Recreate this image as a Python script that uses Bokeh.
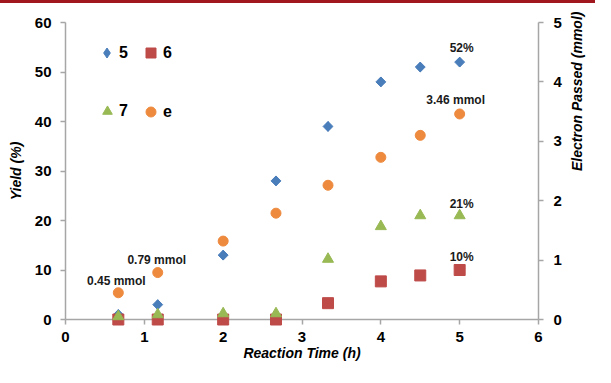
import math
from bokeh.plotting import figure
from bokeh.models import (Range1d, LinearAxis, FixedTicker, ColumnDataSource,
                          LabelSet, Legend, LegendItem, Div)
from bokeh.core.properties import value
from bokeh.layouts import column
from bokeh.embed import file_html
from bokeh.resources import INLINE

# ---- data ----
time_h = [0.67, 1.17, 2.0, 2.67, 3.33, 4.0, 4.5, 5.0]
yield_5 = [1, 3, 13, 28, 39, 48, 51, 52]
yield_6 = [0, 0, 0, 0, 3.3, 7.7, 8.9, 10]
yield_7 = [0.6, 1.0, 1.2, 1.2, 12.2, 18.8, 21, 21]
electron_mmol = [0.45, 0.79, 1.32, 1.79, 2.26, 2.73, 3.10, 3.46]
series_names = ["5", "6", "7", "e"]
x_ticks = [0, 1, 2, 3, 4, 5, 6]
yield_ticks = [0, 10, 20, 30, 40, 50, 60]
electron_ticks = [0, 1, 2, 3, 4, 5]

BLUE = "#4A7EBB"
RED = "#BE4B48"
GREEN = "#98B954"
ORANGE = "#EE8A3E"
FONT = "Liberation Sans"
AXIS_GRAY = "#A6A6A6"

p = figure(width=595, height=364, x_range=Range1d(0, 6), y_range=Range1d(0, 60),
           output_backend="svg", toolbar_location=None,
           min_border_left=65, min_border_right=55, min_border_top=19, min_border_bottom=48,
           background_fill_color="white", border_fill_color="white")
p.outline_line_color = None
p.grid.visible = False
p.extra_y_ranges = {"right": Range1d(0, 5)}

right_axis = LinearAxis(y_range_name="right", ticker=FixedTicker(ticks=electron_ticks),
                        axis_label="Electron Passed (mmol)")
p.add_layout(right_axis, "right")

p.xaxis.ticker = FixedTicker(ticks=x_ticks)
p.yaxis[0].ticker = FixedTicker(ticks=yield_ticks)
p.xaxis.axis_label = "Reaction Time (h)"
p.yaxis[0].axis_label = "Yield (%)"

for ax in p.axis:
    ax.axis_line_color = AXIS_GRAY
    ax.axis_line_width = 1.5
    ax.major_tick_line_color = AXIS_GRAY
    ax.major_tick_line_width = 1.5
    ax.major_tick_out = 5
    ax.major_tick_in = 0
    ax.minor_tick_line_color = None
    ax.major_label_text_font = FONT
    ax.major_label_text_font_size = "15px"
    ax.major_label_text_font_style = "bold"
    ax.major_label_text_color = "black"
    ax.axis_label_text_font = FONT
    ax.axis_label_text_font_size = "14px"
    ax.axis_label_text_font_style = "bold italic"
    ax.axis_label_text_color = "black"

p.xaxis.major_label_standoff = 7
p.xaxis.axis_label_standoff = 0
p.yaxis[0].major_label_standoff = 9
p.yaxis[0].axis_label_standoff = 8
right_axis.major_label_standoff = 10
right_axis.axis_label_standoff = 12
right_axis.axis_label_orientation = math.pi / 2

src = ColumnDataSource(dict(t=time_h, y5=yield_5, y6=yield_6, y7=yield_7, e=electron_mmol))

# diamond-shaped key for the legend (legend glyphs ignore marker angle); it sits
# entirely underneath the rotated-square markers drawn next
r5_key = p.scatter("t", "y5", source=src, marker="diamond", size=9.6, color=BLUE,
                   level="overlay")
r5 = p.scatter("t", "y5", source=src, marker="square", angle=math.pi / 4, size=7,
               color=BLUE, level="overlay")
r6 = p.scatter("t", "y6", source=src, marker="square", size=11, color=RED, level="overlay")
r7 = p.scatter("t", "y7", source=src, marker="triangle", size=11, color=GREEN, level="overlay")
re_ = p.scatter("t", "e", source=src, marker="circle", size=10, color=ORANGE,
                y_range_name="right", level="overlay")

# ---- point labels ----
last = len(time_h) - 1
left_lab = ColumnDataSource(dict(
    x=[time_h[last]] * 3,
    y=[yield_5[last], yield_7[last], yield_6[last]],
    text=[f"{yield_5[last]:g}%", f"{yield_7[last]:g}%", f"{yield_6[last]:g}%"],
    dx=[2, 2, 2],
    dy=[14, 12, 13],
))
right_idx = [0, 1, last]
right_lab = ColumnDataSource(dict(
    x=[time_h[i] for i in right_idx],
    y=[electron_mmol[i] for i in right_idx],
    text=[f"{electron_mmol[i]:.2f} mmol" for i in right_idx],
    dx=[-2, -1, -4],
    dy=[12, 13, 14],
))
for s, rng in ((left_lab, "default"), (right_lab, "right")):
    p.add_layout(LabelSet(x="x", y="y", text="text", x_offset="dx", y_offset="dy", source=s,
                          y_range_name=rng, text_align="center", text_baseline="middle",
                          text_font=value(FONT), text_font_size=value("12px"),
                          text_font_style="bold", text_color="#1A1A1A"))

# ---- legends (one per item to reproduce the 2x2 arrangement) ----
legend_specs = [
    (series_names[0], r5_key, 25, (29, 254), -3),
    (series_names[1], r6, 25, (73, 254), -3),
    (series_names[2], r7, 24, (30, 196), -2),
    (series_names[3], re_, 25, (73, 195), -3),
]
for name, rend, box, loc, standoff in legend_specs:
    leg = Legend(items=[LegendItem(label=name, renderers=[rend])], location=loc,
                 glyph_width=box, glyph_height=box, label_height=box, label_width=0,
                 label_standoff=standoff, spacing=0, padding=0, margin=0,
                 border_line_color=None, background_fill_alpha=0,
                 label_text_font=FONT, label_text_font_size="16px",
                 label_text_font_style="bold", label_text_color="black")
    p.add_layout(leg)

top_rule = Div(width=595, height=3, margin=0,
               styles={"background-color": "#A0181E", "padding": "0"})
layout = column(top_rule, p, spacing=0)

open("out.html", "w").write(file_html(layout, INLINE))
